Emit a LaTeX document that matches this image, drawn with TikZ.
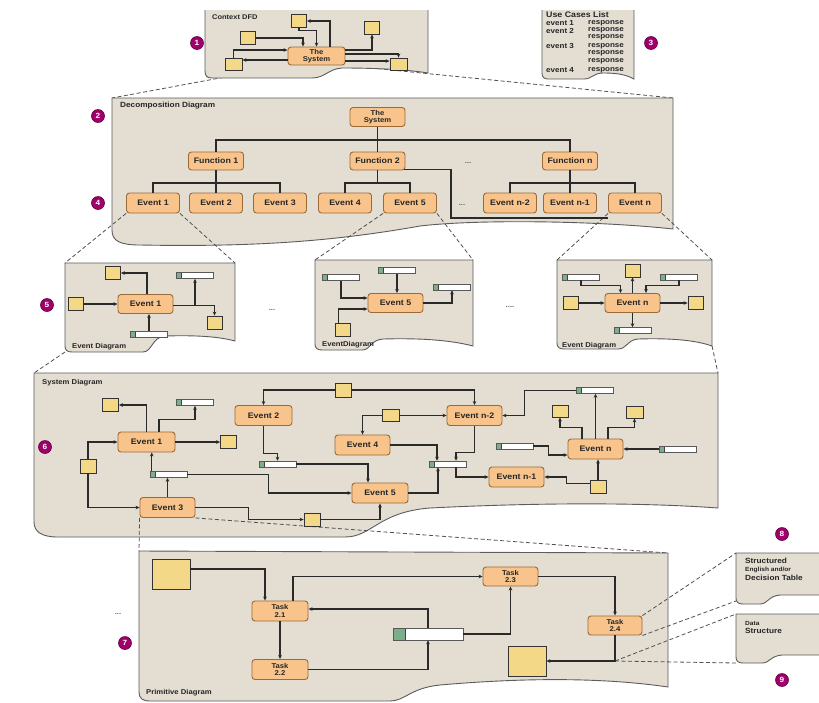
\documentclass[tikz,border=0pt]{standalone}
\usepackage{fontspec}
\newfontfamily\lab[FakeStretch=1.1]{Liberation Sans}
\usetikzlibrary{arrows.meta,calc}
\definecolor{panelfill}{HTML}{E3DDD2}
\definecolor{panelline}{HTML}{5C5C5C}
\definecolor{procfill}{HTML}{F8C48B}
\definecolor{procline}{HTML}{9C6A36}
\definecolor{sqfill}{HTML}{F3D888}
\definecolor{storegreen}{HTML}{7DAE8C}
\definecolor{numcol}{HTML}{A0006A}
\definecolor{arrcol}{HTML}{2A2A2A}
\definecolor{dashcol}{HTML}{505050}
\pgfdeclarelayer{backdash}
\pgfdeclarelayer{panels}
\pgfdeclarelayer{middash}
\pgfsetlayers{backdash,panels,middash,main}
\begin{document}
\begin{tikzpicture}[x=1pt,y=-1pt,
 panel/.style={fill=panelfill,draw=panelline,line width=0.9pt},
 proc/.style={draw=procline,fill=procfill,rounded corners=3pt,line width=0.9pt,minimum width=55pt,minimum height=19pt,inner sep=1pt,text=black!85,font=\lab\bfseries\fontsize{8}{9}\selectfont},
 proc2/.style={proc,align=center,font=\lab\bfseries\fontsize{7}{7.5}\selectfont},
 sq/.style={draw=black!80,fill=sqfill,line width=0.8pt,minimum width=15pt,minimum height=13pt,inner sep=0pt},
 store/.style={draw=black!65,fill=white,line width=0.5pt,minimum width=37pt,minimum height=6pt,inner sep=0pt,
   path picture={\fill[storegreen] (path picture bounding box.south west) rectangle ([xshift=#1]path picture bounding box.north west);
   \draw[black!75,line width=0.6pt] ([xshift=#1]path picture bounding box.south west) -- ([xshift=#1]path picture bounding box.north west);}},
 store/.default=5pt,
 arr/.style={draw=arrcol,line width=1.1pt,-{Stealth[length=4pt,width=3.6pt]}},
 ln/.style={draw=arrcol,line width=1.3pt},
 dashln/.style={draw=dashcol,line width=0.8pt,dash pattern=on 4pt off 2.5pt},
 num/.style={circle,fill=numcol,draw=numcol!60!black,line width=0.6pt,minimum size=13pt,inner sep=0pt,text=white,font=\lab\bfseries\fontsize{7.5}{7.5}\selectfont},
 ptitle/.style={anchor=west,inner sep=0pt,text=black!85,font=\lab\bfseries\fontsize{7.5}{8}\selectfont},
 uct/.style={anchor=west,inner sep=0pt,text=black!85,font=\lab\bfseries\fontsize{7.3}{7.3}\selectfont},
 dotsl/.style={inner sep=0pt,text=black!60,font=\lab\bfseries\fontsize{7}{7}\selectfont},
]
\useasboundingbox (0,0) rectangle (819,702);

% ---------- panels ----------
\begin{pgfonlayer}{panels}
\path[panel] (205,10) -- (205,71) .. controls (205,76) and (207,78) .. (212,78) -- (312,78) .. controls (325,78) and (328,69) .. (342,68) .. controls (380,68) and (410,70) .. (428,73) -- (428,10);
\path[panel] (542,10) -- (542,73) .. controls (542,77) and (544,79) .. (548,79) -- (584,79) .. controls (592,79) and (593,73) .. (603,73) .. controls (615,73) and (625,74) .. (634,79) -- (634,10);
\path[panel] (112,98) -- (112,230) .. controls (112,241) and (120,245) .. (140,245) .. controls (250,247) and (330,242) .. (420,226) .. controls (480,219) and (600,221) .. (673,229) -- (673,98) -- cycle;
\path[panel] (65,263) -- (65,346) .. controls (65,350) and (67,352) .. (72,352) -- (143,352) .. controls (152,352) and (152,337) .. (165,336) .. controls (200,335) and (220,337) .. (235,341) -- (235,263) -- cycle;
\path[panel] (315,260) -- (315,344) .. controls (315,348) and (317,350) .. (322,350) -- (362,350) .. controls (371,350) and (370,340) .. (383,339) .. controls (420,338) and (450,340) .. (473,346) -- (473,260) -- cycle;
\path[panel] (557,260) -- (557,343) .. controls (557,347) and (559,349) .. (564,349) -- (618,349) .. controls (627,349) and (627,340) .. (638,339) .. controls (670,338) and (695,340) .. (712,346) -- (712,260) -- cycle;
\path[panel] (34,373) -- (34,522) .. controls (34,532) and (42,537) .. (58,537) -- (345,537) .. controls (372,537) and (378,512) .. (430,508) .. controls (550,502) and (650,503) .. (718,508) -- (718,373) -- cycle;
\path[panel] (139,551) -- (139,692) .. controls (139,698) and (142,701) .. (150,701) -- (390,701) .. controls (405,701) and (410,688) .. (440,685) .. controls (520,678) and (600,677) .. (668,687) -- (668,553) -- cycle;
\path[panel] (824,553) -- (736,553) -- (736,598) .. controls (736,602) and (738,604) .. (743,604) -- (760,604) .. controls (768,604) and (768,596) .. (780,595) -- (824,595);
\path[panel] (824,614) -- (736,614) -- (736,657) .. controls (736,661) and (738,663) .. (743,663) -- (762,663) .. controls (770,663) and (770,656) .. (782,655) -- (824,655);
\end{pgfonlayer}

\coordinate (decTL) at (112,98);
\coordinate (decTR) at (673,98);
\coordinate (ed1TL) at (65,263);
\coordinate (ed1TR) at (235,263);
\coordinate (ed5TL) at (315,260);
\coordinate (ed5TR) at (473,260);
\coordinate (ednTL) at (557,260);
\coordinate (ednTR) at (712,260);
\coordinate (ed1BL) at (65,352);
\coordinate (ednBR) at (712,346);
\coordinate (sysTL) at (34,373);
\coordinate (sysTR) at (718,373);
\coordinate (prTL) at (139,551);
\coordinate (prTR) at (668,553);
\coordinate (p8TL) at (736,553);
\coordinate (p8BL) at (736,601);
\coordinate (p9TL) at (736,614);
\coordinate (p9BL) at (736,663);

% ---------- numbers ----------
\node[num] (n1) at (197,43) {1};
\node[num] (n3) at (651,43) {3};
\node[num] (n2) at (98,116) {2};
\node[num] (n4) at (98,203) {4};
\node[num] (n5) at (47,305) {5};
\node[num] (n6) at (45,447) {6};
\node[num] (n7) at (125,643) {7};
\node[num] (n8) at (782,534) {8};
\node[num] (n9) at (782,680) {9};

% ---------- context DFD ----------
\node[ptitle,font=\lab\bfseries\fontsize{6.8}{7}\selectfont] (tctx) at (212,17) {Context DFD};
\node[proc2,minimum width=57pt,minimum height=18pt] (sys0) at (316.5,56) {The\\System};
\node[sq] (ctop) at (299,21) {};
\node[sq] (cleft) at (248,38) {};
\node[sq,minimum width=17pt,minimum height=12pt] (cbl) at (233.5,64) {};
\node[sq] (ctr) at (372,27.5) {};
\node[sq,minimum width=17pt,minimum height=12pt] (cbr) at (398.5,64) {};
\draw[arr] (cleft.east) -| ($(sys0.north)+(-13.5,0)$);
\draw[arr] (ctop.south) -- ++(0,3) -| (sys0.north);
\draw[arr] ($(sys0.north)+(13.5,0)$) |- (ctop.east);
\draw[arr] ($(sys0.east)+(0,-6)$) -| (ctr.south);
\draw[arr] (cbl.north) |- ($(sys0.west)+(0,-6)$);
\coordinate (q1) at ($(sys0.west)+(0,4)$);
\draw[arr] (q1) -- (q1 -| cbl.east);
\draw[arr] ($(sys0.east)+(0,-2)$) -| (cbr.north);
\coordinate (q2) at ($(sys0.east)+(0,5)$);
\draw[arr] (q2) -- (q2 -| cbr.west);

% ---------- use cases ----------
\node[uct,font=\lab\bfseries\fontsize{8}{8}\selectfont] (uc0) at (546,15) {Use Cases List};
\node[uct] (uca1) at (546,23) {event 1};
\node[uct] (ucr1) at (588,23) {response};
\node[uct] (uca2) at (546,30.5) {event 2};
\node[uct] (ucr2) at (588,30.5) {response};
\node[uct] (ucr3) at (588,37.5) {response};
\node[uct] (uca3) at (546,46) {event 3};
\node[uct] (ucr4) at (588,46) {response};
\node[uct] (ucr5) at (588,53.5) {response};
\node[uct] (ucr6) at (588,61) {response};
\node[uct] (uca4) at (546,70) {event 4};
\node[uct] (ucr7) at (588,70) {response};

% ---------- decomposition ----------
\node[ptitle] (tdec) at (120,106) {Decomposition Diagram};
\node[proc2] (dsys) at (377.5,117) {The\\System};
\node[proc,minimum height=18pt] (f1) at (216,161) {Function 1};
\node[proc,minimum height=18pt] (f2) at (377.5,161) {Function 2};
\node[proc,minimum height=18pt] (fn) at (570,161) {Function n};
\node[dotsl] (dd1) at (468,163) {...};
\node[proc,minimum width=53pt,minimum height=20pt] (de1) at (153,203) {Event 1};
\node[proc,minimum width=53pt,minimum height=20pt] (de2) at (216,203) {Event 2};
\node[proc,minimum width=53pt,minimum height=20pt] (de3) at (280,203) {Event 3};
\node[proc,minimum width=53pt,minimum height=20pt] (de4) at (345,203) {Event 4};
\node[proc,minimum width=53pt,minimum height=20pt] (de5) at (410,203) {Event 5};
\node[dotsl] (dd2) at (462,205) {...};
\node[proc,minimum width=53pt,minimum height=20pt] (den2) at (510,203) {Event n-2};
\node[proc,minimum width=53pt,minimum height=20pt] (den1) at (570,203) {Event n-1};
\node[proc,minimum width=53pt,minimum height=20pt] (den) at (635,203) {Event n};
\coordinate (bus1) at (377.5,140);
\coordinate (bus2) at (216,183);
\coordinate (bus3) at (377.5,183);
\coordinate (bus4) at (570,183);
\coordinate (k1) at (451,218);
\draw[ln] (dsys.south) -- (f2.north);
\draw[ln] (f1.north) |- (bus1) -| (fn.north);
\draw[ln] (f1.south) -- (de2.north);
\draw[ln] (de1.north) |- (bus2) -| (de3.north);
\draw[ln] (f2.south) -- (bus3);
\draw[ln] (de4.north) |- (bus3) -| (de5.north);
\draw[ln] (fn.south) -- (den1.north);
\draw[ln] (den2.north) |- (bus4) -| (den.north);
\draw[ln] ($(f2.south east)+(-1,-1)$) -| (k1) -- (den.south west |- k1);

% ---------- event diagram 1 ----------
\node[proc] (ev1a) at (145.5,304) {Event 1};
\node[sq] (e1sqL) at (76,304) {};
\node[sq] (e1sqT) at (113,273) {};
\node[store] (e1stT) at (195,275.5) {};
\node[sq] (e1sqR) at (214.5,322.5) {};
\node[store] (e1stB) at (149,334) {};
\node[ptitle,font=\lab\bfseries\fontsize{7}{7}\selectfont] (ted1) at (72,347) {Event Diagram};
\draw[arr] (e1sqL.east) -- (ev1a.west);
\draw[arr] ($(ev1a.north)+(1.5,0)$) |- (e1sqT.east);
\draw[arr] ($(ev1a.east)+(0,1.5)$) -| (e1stT.south);
\draw[arr] ($(ev1a.east)+(0,1.5)$) -| (e1sqR.north);
\draw[arr] (e1stB.north) -- (e1stB.north |- ev1a.south);
\node[dotsl] (dd3) at (272,310) {...};

% ---------- event diagram 5 ----------
\node[proc] (ev5a) at (395.5,303) {Event 5};
\node[store] (e5stA) at (341,277.5) {};
\node[store] (e5stB) at (397,270.5) {};
\node[store] (e5stC) at (452,287) {};
\node[sq] (e5sq) at (342.5,329.5) {};
\node[ptitle,font=\lab\bfseries\fontsize{7}{7}\selectfont] (ted5) at (322,345) {EventDiagram};
\draw[arr] (e5stA.south) |- ($(ev5a.west)+(0,-5)$);
\draw[arr] (e5stB.south) -- (e5stB.south |- ev5a.north);
\draw[arr] (ev5a.east) -| (e5stC.south);
\draw[arr,line width=1.5pt] ($(e5sq.north)+(-4,0)$) |- ($(ev5a.west)+(0,6)$);
\node[dotsl] (dd4) at (510,307) {....};

% ---------- event diagram n ----------
\node[proc] (evna) at (632.5,303) {Event n};
\node[sq] (enT) at (632.5,270.5) {};
\node[store] (enStL) at (581,277) {};
\node[store] (enStR) at (679,277) {};
\node[sq] (enSqL) at (570.5,303) {};
\node[sq] (enSqR) at (695.5,303) {};
\node[store] (enStB) at (632.5,330.5) {};
\node[ptitle,font=\lab\bfseries\fontsize{7}{7}\selectfont] (tedn) at (562,346) {Event Diagram};
\draw[arr] (evna.north) -- (enT.south);
\draw[arr] (enStL.south) -- ++(0,5) -| ($(evna.north)+(-12,0)$);
\draw[arr] (enStR.south) -- ++(0,5) -| ($(evna.north)+(13.5,0)$);
\draw[arr] (enSqL.east) -- (evna.west);
\draw[arr] (evna.east) -- (enSqR.west);
\draw[arr] (evna.south) -- (enStB.north);

% ---------- system diagram ----------
\node[ptitle,font=\lab\bfseries\fontsize{7}{7}\selectfont] (tsys) at (42,383) {System Diagram};
\node[proc,minimum width=57pt,minimum height=20pt] (s1) at (146.5,442) {Event 1};
\node[proc,minimum width=55pt,minimum height=20pt] (s3) at (167.5,507.5) {Event 3};
\node[proc,minimum width=57pt,minimum height=20pt] (s2) at (263.5,415.5) {Event 2};
\node[proc,minimum width=55pt,minimum height=20pt] (s4) at (362.5,445) {Event 4};
\node[proc,minimum width=56pt,minimum height=20pt] (s5) at (380,493) {Event 5};
\node[proc,minimum width=55pt,minimum height=20pt] (sn2) at (474.5,415.5) {Event n-2};
\node[proc,minimum width=55pt,minimum height=20pt] (sn1) at (516.5,477) {Event n-1};
\node[proc,minimum width=55pt,minimum height=20pt] (sn) at (595.5,449) {Event n};
\node[sq,minimum width=16pt] (sqTL) at (110.5,405) {};
\node[store] (stT) at (195,402.5) {};
\node[sq,minimum width=16pt] (sqR1) at (228.5,442) {};
\node[sq,minimum width=16pt,minimum height=14pt] (sqL) at (88,466) {};
\node[store] (stM) at (168.5,474.5) {};
\node[store] (stE2) at (277.5,464) {};
\node[sq,minimum width=16pt] (sqB) at (312,519.5) {};
\node[sq,minimum width=16pt,minimum height=14pt] (sqTop) at (343.5,390) {};
\node[sq,minimum width=17pt,minimum height=12pt] (sqE4) at (390.5,415.5) {};
\node[store] (stC) at (447.5,464) {};
\node[store] (stTR) at (594.5,390.5) {};
\node[sq,minimum width=16pt,minimum height=12pt] (sqA) at (560,411) {};
\node[sq,minimum width=17pt,minimum height=12pt] (sqBsq) at (634.5,412) {};
\node[store] (stL) at (514.5,446) {};
\node[store] (stR) at (677.5,449) {};
\node[sq,minimum width=16pt] (sqN1) at (598,486.5) {};
\draw[arr] (s1.north) |- (sqTL.east);
\draw[arr] ($(s1.north)+(12.5,0)$) -- ++(0,-12) -| (stT.south);
\draw[arr] (s1.east) -- (sqR1.west);
\draw[arr] (sqL.north) |- (s1.west);
\draw[arr] (sqL.south) |- (s3.west);
\coordinate (p1) at ($(stM.north west)+(2,0)$);
\draw[arr] (p1) -- (p1 |- s1.south);
\draw[arr] (s3.north) -- (s3.north |- stM.south);
\draw[arr] (stM.east) -- ++(81,0) |- (s5.west);
\draw[arr] (s3.east) -- ++(53,0) |- (sqB.west);
\draw[arr] (sqB.east) -| (s5.south);
\draw[arr] (sqTop.west) -| (s2.north);
\draw[arr] (sqTop.east) -| (sn2.north);
\draw[arr] (s2.south) -- ++(0,27.5) -| (stE2.north);
\draw[arr] (stE2.east) -| ($(s5.north)+(-12,0)$);
\draw[arr] (sqE4.east) -- (sn2.west);
\draw[arr] (sqE4.west) -| (s4.north);
\draw[arr] (s4.east) -| ($(stC.north)+(-10.5,0)$);
\draw[arr] (sn2.south) -- ++(0,26.5) -| ($(stC.north)+(8.5,0)$);
\draw[arr] (s5.east) -| ($(stC.south)+(-9.5,0)$);
\draw[arr] ($(stC.south)+(8.5,0)$) |- (sn1.west);
\draw[arr] (stTR.west) -- ++(-51,0) |- (sn2.east);
\draw[arr] (sn.north) -- (sn.north |- stTR.south);
\draw[arr] ($(sn.north)+(-13.5,0)$) -- ++(0,-11) -| (sqA.south);
\draw[arr] ($(sn.north)+(12.5,0)$) -- ++(0,-11) -| (sqBsq.south);
\draw[arr] (stL.east) -- ++(15,0) |- ($(sn.west)+(0,6)$);
\draw[arr] (stR.west) -- (sn.east);
\draw[arr] (sqN1.north) -- (sqN1.north |- sn.south);
\draw[arr,line width=1.5pt] ($(sqN1.west)+(0,-3)$) -- ++(-23,0) |- (sn1.east);

% ---------- primitive diagram ----------
\node[ptitle,font=\lab\bfseries\fontsize{7}{7}\selectfont] (tpr) at (146,693) {Primitive Diagram};
\node[dotsl] (dd5) at (118,614) {...};
\node[sq,minimum width=38pt,minimum height=30pt] (pbig) at (171,574) {};
\node[proc2,minimum width=56pt,minimum height=20pt] (t21) at (280,611) {Task\\2.1};
\node[proc2,minimum width=56pt,minimum height=20pt] (t22) at (280,669.5) {Task\\2.2};
\node[store=12pt,minimum width=70pt,minimum height=12pt] (pst) at (428,634) {};
\node[proc2,minimum width=55pt,minimum height=19pt] (t23) at (510.5,576.5) {Task\\2.3};
\node[proc2,minimum width=54pt,minimum height=19pt] (t24) at (615,625.5) {Task\\2.4};
\node[sq,minimum width=38pt,minimum height=30pt] (pbig2) at (527,661) {};
\draw[arr] ($(pbig.east)+(0,-5)$) -| ($(t21.north)+(-15,0)$);
\draw[arr] ($(t21.north)+(13,0)$) |- (t23.west);
\draw[arr] (t21.south) -- (t22.north);
\draw[arr] (t22.east) -| (pst.south);
\draw[arr] (pst.north) |- ($(t21.east)+(0,-2)$);
\draw[arr] (pst.east) -| (t23.south);
\draw[arr] (t23.east) -| (t24.north);
\draw[arr] (t24.south) |- (pbig2.east);
\coordinate (corner24) at (t24.south |- pbig2.east);

% ---------- side panels text ----------
\node[uct,font=\lab\bfseries\fontsize{7.5}{8}\selectfont] (p8a) at (745,561) {Structured};
\node[uct,font=\lab\bfseries\fontsize{6}{6}\selectfont] (p8b) at (745,570) {English and/or};
\node[uct,font=\lab\bfseries\fontsize{7.5}{8}\selectfont] (p8c) at (745,578) {Decision Table};
\node[uct,font=\lab\bfseries\fontsize{6}{6}\selectfont] (p9a) at (745,623) {Data};
\node[uct,font=\lab\bfseries\fontsize{7.5}{8}\selectfont] (p9b) at (745,631) {Structure};

% ---------- dashed zoom lines ----------
\begin{pgfonlayer}{backdash}
\draw[dashln] (sys0.south west) -- (decTL);
\draw[dashln] (sys0.south east) -- (decTR);
\end{pgfonlayer}
\begin{pgfonlayer}{middash}
\draw[dashln] (de1.south west) -- (ed1TL);
\draw[dashln] (de1.south east) -- (ed1TR);
\draw[dashln] (de5.south west) -- (ed5TL);
\draw[dashln] (de5.south east) -- (ed5TR);
\draw[dashln] (den.south west) -- (ednTL);
\draw[dashln] (den.south east) -- (ednTR);
\draw[dashln] (ed1BL) -- (sysTL);
\draw[dashln] (ednBR) -- (sysTR);
\draw[dashln] (s3.south west) -- (prTL);
\draw[dashln] (s3.south east) -- (prTR);
\draw[dashln] (t24.north east) -- (p8TL);
\draw[dashln] (t24.south east) -- (p8BL);
\draw[dashln] (corner24) -- (p9TL);
\draw[dashln] (corner24) -- (p9BL);
\end{pgfonlayer}
\end{tikzpicture}
\end{document}
